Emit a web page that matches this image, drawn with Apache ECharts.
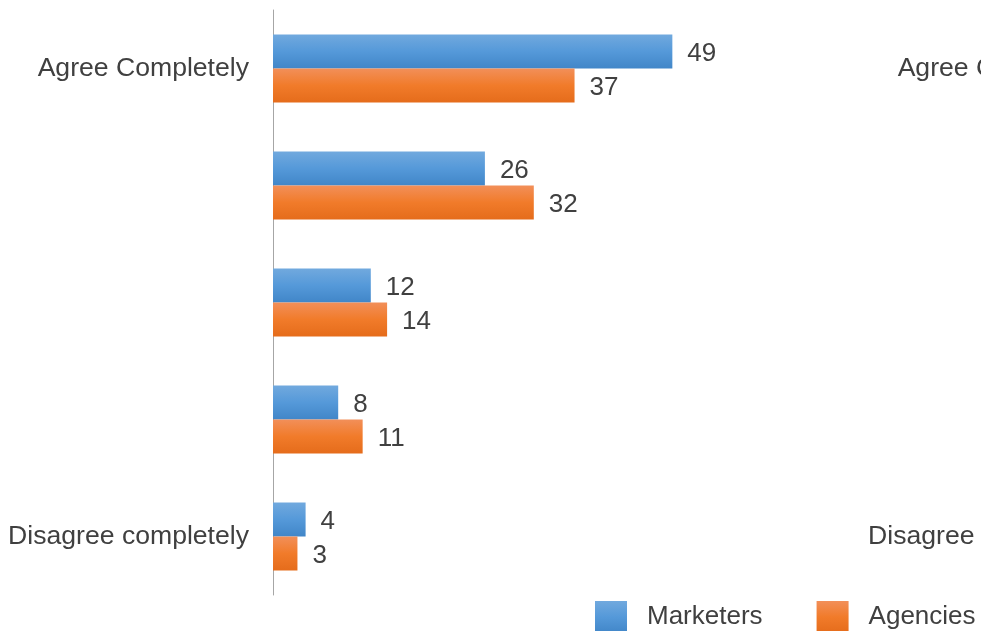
<!DOCTYPE html>
<html>
<head>
<meta charset="utf-8">
<script src="https://cdn.jsdelivr.net/npm/echarts@6/dist/echarts.min.js"></script>
<style>
  html, body { margin: 0; padding: 0; background: #fff; }
  #chart { width: 981px; height: 631px; }
</style>
</head>
<body>
<div id="chart"></div>
<script>
// Survey answers, from full agreement (top) to full disagreement (bottom)
const categories = ['Agree Completely', 'Agree', 'Neutral', 'Disagree', 'Disagree completely'];
// Only the two scale ends carry a printed label
const tickLabels = ['Agree Completely', '', '', '', 'Disagree completely'];
const marketers = [49, 26, 12, 8, 4];
const agencies = [37, 32, 14, 11, 3];

const FONT = '"Liberation Sans", Arial, sans-serif';
const TEXT = '#404040';
const SIZE = 26;

function grad(top, mid, bottom) {
  return new echarts.graphic.LinearGradient(0, 0, 0, 1, [
    { offset: 0, color: top },
    { offset: 0.5, color: mid },
    { offset: 1, color: bottom }
  ]);
}

const labelStyle = {
  show: true,
  position: 'right',
  distance: 15,
  offset: [0, 2],
  fontFamily: FONT,
  fontSize: SIZE,
  color: TEXT
};

function categoryAxis(gridIndex) {
  return {
    type: 'category',
    gridIndex: gridIndex,
    data: categories,
    inverse: true,
    axisLine: { show: true, lineStyle: { color: '#a6a6a6', width: 1 } },
    axisTick: { show: false },
    splitLine: { show: false },
    axisLabel: {
      margin: 24,
      fontFamily: FONT,
      fontSize: 26.6,
      color: TEXT,
      formatter: (v, i) => tickLabels[i]
    }
  };
}

const chart = echarts.init(document.getElementById('chart'));
chart.setOption({
  animation: false,
  backgroundColor: '#ffffff',
  textStyle: { fontFamily: FONT },
  legend: {
    data: ['Marketers', 'Agencies'],
    left: 595,
    top: 601,
    padding: 0,
    itemWidth: 32,
    itemHeight: 32,
    itemGap: 54,
    icon: 'rect',
    textStyle: { fontFamily: FONT, fontSize: SIZE, color: TEXT, padding: [2, 0, 0, 15] }
  },
  grid: [
    { left: 273, top: 10, width: 489, height: 585 },
    // neighbouring panel, running off the right edge
    { left: 1133, top: 10, width: 489, height: 585 }
  ],
  xAxis: [
    { type: 'value', gridIndex: 0, min: 0, max: 60, show: false },
    { type: 'value', gridIndex: 1, min: 0, max: 60, show: false }
  ],
  yAxis: [categoryAxis(0), categoryAxis(1)],
  series: [
    {
      name: 'Marketers',
      type: 'bar',
      xAxisIndex: 0,
      yAxisIndex: 0,
      data: marketers,
      barWidth: 34,
      barGap: '0%',
      color: '#5b9bd5',
      itemStyle: { color: grad('#71a9de', '#5599d9', '#4186c8') },
      label: labelStyle
    },
    {
      name: 'Agencies',
      type: 'bar',
      xAxisIndex: 0,
      yAxisIndex: 0,
      data: agencies,
      barWidth: 34,
      barGap: '0%',
      color: '#ed7d31',
      itemStyle: { color: grad('#f28f59', '#f17b2a', '#e56c1b') },
      label: labelStyle
    }
  ]
});
</script>
</body>
</html>
